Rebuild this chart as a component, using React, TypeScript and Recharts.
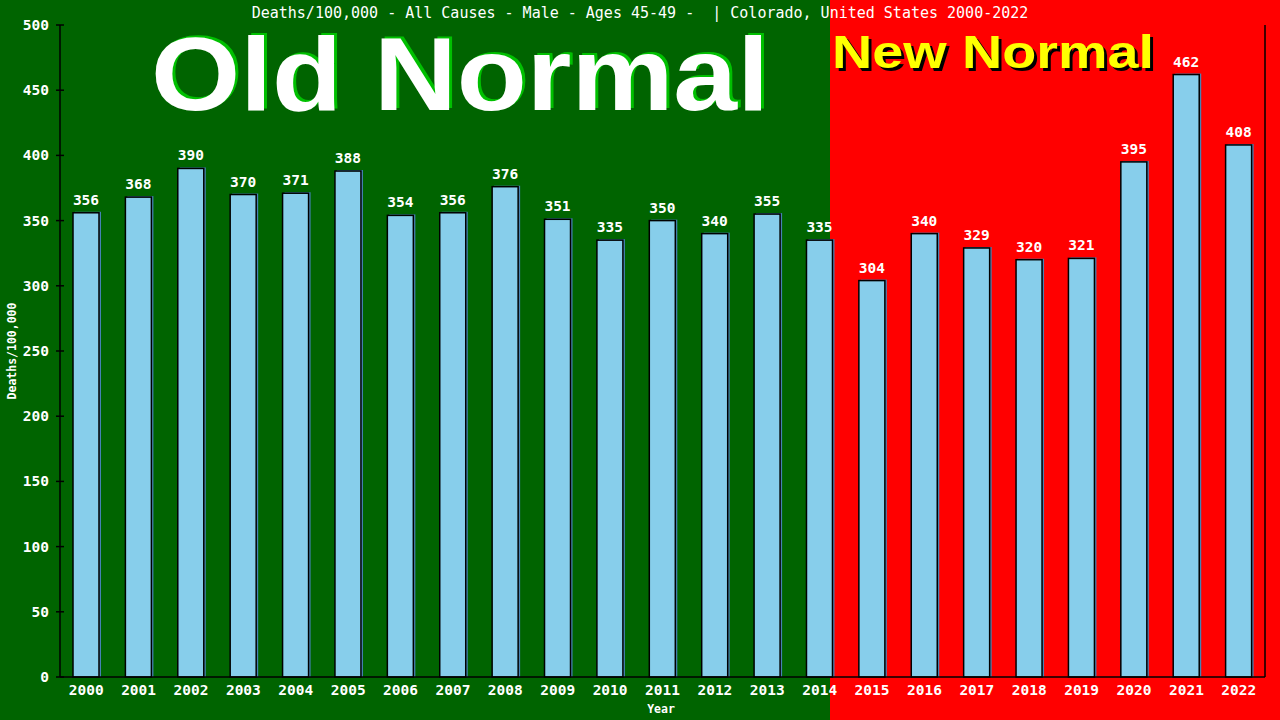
import { BarChart, Bar, XAxis, YAxis, LabelList } from "recharts";

const years = [
  "2000", "2001", "2002", "2003", "2004", "2005", "2006", "2007", "2008", "2009", "2010", "2011",
  "2012", "2013", "2014", "2015", "2016", "2017", "2018", "2019", "2020", "2021", "2022",
];
const deathRates = [
  356, 368, 390, 370, 371, 388, 354, 356, 376, 351, 335, 350,
  340, 355, 335, 304, 340, 329, 320, 321, 395, 462, 408,
];
const yTicks = [0, 50, 100, 150, 200, 250, 300, 350, 400, 450, 500];

const data = years.map((year, i) => ({ year, rate: deathRates[i] }));

const MONO = "'DejaVu Sans Mono', monospace";

function ShadowBar(props: any) {
  const { x, y, width, height } = props;
  if (!height) return null;
  return (
    <g>
      <rect x={x + 2} y={y - 1} width={width} height={height + 1} fill="#4682b4" />
      <rect x={x} y={y} width={width} height={height} fill="#87ceeb" stroke="#000" strokeWidth={1.5} />
    </g>
  );
}

function YTick(props: any) {
  const { x, y, payload } = props;
  return (
    <g>
      <line x1={x - 4} x2={x + 4} y1={y} y2={y} stroke="#000" strokeWidth={1.5} />
      <text x={x - 11} y={y + 5} textAnchor="end" fill="#fff" fontFamily={MONO} fontWeight="bold" fontSize={14.5}>
        {payload.value}
      </text>
    </g>
  );
}

export default function App() {
  return (
    <div
      style={{
        position: "absolute",
        left: 0,
        top: 0,
        width: 1280,
        height: 720,
        background: "linear-gradient(to right, #006400 0px, #006400 830px, #ff0000 830px, #ff0000 1280px)",
      }}
    >
      <svg width={1280} height={720} style={{ position: "absolute", left: 0, top: 0 }}>
        <text x={640} y={18} textAnchor="middle" fill="#fff" fontFamily={MONO} fontSize={15} style={{ whiteSpace: "pre" }}>
          {"Deaths/100,000 - All Causes - Male - Ages 45-49 -  | Colorado, United States 2000-2022"}
        </text>
        <g fontFamily="'Liberation Sans', Arial, sans-serif" fontWeight="bold">
          <text x={154} y={108} fontSize={104} fill="#00c000" textLength={618} lengthAdjust="spacingAndGlyphs">
            Old Normal
          </text>
          <text x={151} y={110} fontSize={104} fill="#fff" textLength={618} lengthAdjust="spacingAndGlyphs">
            Old Normal
          </text>
          <text x={835} y={71} fontSize={47} fill="#000" textLength={322} lengthAdjust="spacingAndGlyphs">
            New Normal
          </text>
          <text x={832} y={68} fontSize={47} fill="#ffff00" textLength={322} lengthAdjust="spacingAndGlyphs">
            New Normal
          </text>
        </g>
        <text
          x={16}
          y={351}
          transform="rotate(-90 16 351)"
          textAnchor="middle"
          fill="#fff"
          fontFamily={MONO}
          fontWeight="bold"
          fontSize={11.5}
        >
          Deaths/100,000
        </text>
        <text x={661} y={713} textAnchor="middle" fill="#fff" fontFamily={MONO} fontWeight="bold" fontSize={11.5}>
          Year
        </text>
        <line x1={1265} x2={1265} y1={25} y2={677} stroke="#000" strokeWidth={1.5} />
      </svg>
      <div style={{ position: "absolute", left: 0, top: 0 }}>
        <BarChart width={1280} height={720} data={data} margin={{ top: 25, right: 15, left: 0, bottom: 0 }}>
          <XAxis
            dataKey="year"
            height={43}
            tickLine={false}
            axisLine={{ stroke: "#000", strokeWidth: 1.5 }}
            tick={{ fill: "#fff", fontFamily: MONO, fontWeight: "bold", fontSize: 14.5 }}
            tickMargin={2}
          />
          <YAxis
            width={60}
            domain={[0, 500]}
            ticks={yTicks}
            interval={0}
            tickLine={false}
            tickSize={0}
            tickMargin={0}
            axisLine={{ stroke: "#000", strokeWidth: 1.5 }}
            tick={<YTick />}
          />
          <Bar dataKey="rate" barSize={26} shape={<ShadowBar />} isAnimationActive={false}>
            <LabelList dataKey="rate" position="top" offset={8} fill="#fff" fontFamily={MONO} fontWeight="bold" fontSize={14.5} />
          </Bar>
        </BarChart>
      </div>
    </div>
  );
}
